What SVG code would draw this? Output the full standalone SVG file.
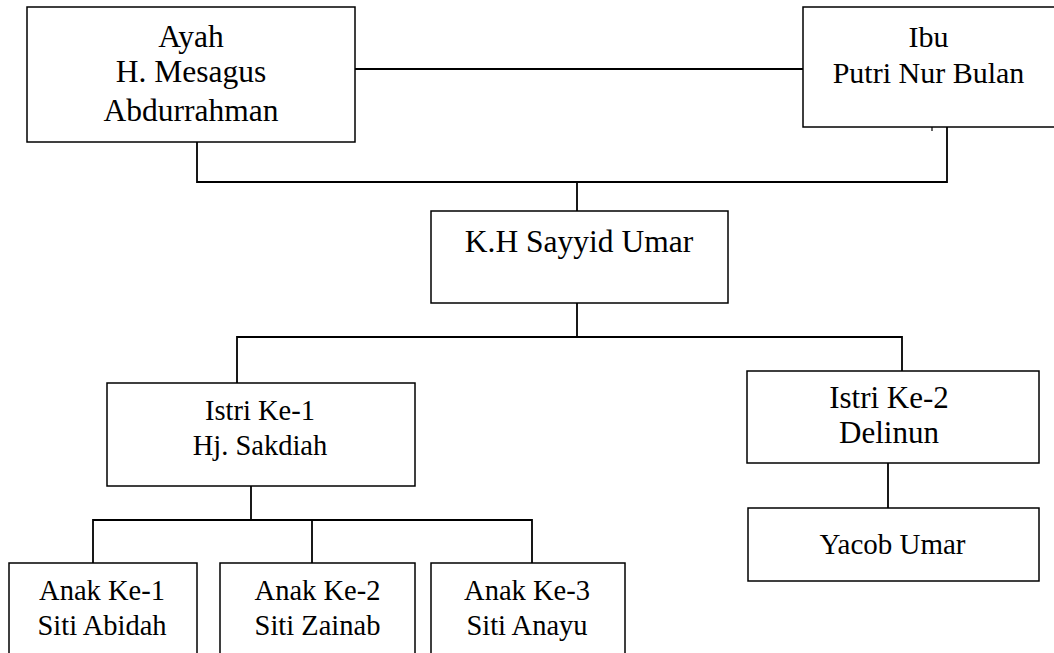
<svg xmlns="http://www.w3.org/2000/svg" width="1054" height="653" viewBox="0 0 1054 653">
<style>
.box{fill:#fff;stroke:#000;stroke-width:1.5}
.ln{fill:none;stroke:#000;stroke-width:1.8}
.t{fill:#000;text-anchor:middle;font-family:'Liberation Serif','Times New Roman',Tinos,'Noto Serif','Nimbus Roman','Nimbus Roman No9 L',FreeSerif,'DejaVu Serif',Times,serif}
</style>
<rect width="1054" height="653" fill="#fff"/>
<g id="connectors" class="ln">
<path d="M355 69H803"/>
<path d="M197 142V182H947V127"/>
<path d="M932 127V131" stroke-width="1.2"/>
<path d="M577 182V211"/>
<path d="M577 303V337"/>
<path d="M237 383V337H902V371"/>
<path d="M888 463V508"/>
<path d="M251 486V520"/>
<path d="M93 563V520H532V563"/>
<path d="M312 520V563"/>
</g>
<g id="ayah"><rect class="box" x="27" y="7" width="328" height="135"/>
<text class="t" font-size="31.5"><tspan x="191" y="47">Ayah</tspan><tspan x="191" y="82">H. Mesagus</tspan><tspan x="191" y="121">Abdurrahman</tspan></text></g>
<g id="ibu"><rect class="box" x="803" y="7" width="252" height="120"/>
<text class="t" font-size="30"><tspan x="928.5" y="47">Ibu</tspan><tspan x="928.5" y="83">Putri Nur Bulan</tspan></text></g>
<g id="kh"><rect class="box" x="431" y="211" width="297" height="92"/>
<text class="t" font-size="31.5" x="579" y="252">K.H Sayyid Umar</text></g>
<g id="istri1"><rect class="box" x="107" y="383" width="308" height="103"/>
<text class="t" font-size="28.5"><tspan x="260" y="420">Istri Ke-1</tspan><tspan x="260" y="455">Hj. Sakdiah</tspan></text></g>
<g id="istri2"><rect class="box" x="747" y="371" width="292" height="92"/>
<text class="t" font-size="31"><tspan x="889" y="408">Istri Ke-2</tspan><tspan x="889" y="443">Delinun</tspan></text></g>
<g id="yacob"><rect class="box" x="748" y="508" width="291" height="73"/>
<text class="t" font-size="29" x="892.5" y="554">Yacob Umar</text></g>
<g id="anak1"><rect class="box" x="9" y="563" width="188" height="100"/>
<text class="t" font-size="28.5"><tspan x="102" y="600">Anak Ke-1</tspan><tspan x="102" y="635">Siti Abidah</tspan></text></g>
<g id="anak2"><rect class="box" x="220" y="563" width="195" height="100"/>
<text class="t" font-size="28.5"><tspan x="317.5" y="600">Anak Ke-2</tspan><tspan x="317.5" y="635">Siti Zainab</tspan></text></g>
<g id="anak3"><rect class="box" x="431" y="563" width="194" height="100"/>
<text class="t" font-size="28.5"><tspan x="527" y="600">Anak Ke-3</tspan><tspan x="527" y="635">Siti Anayu</tspan></text></g>
</svg>
